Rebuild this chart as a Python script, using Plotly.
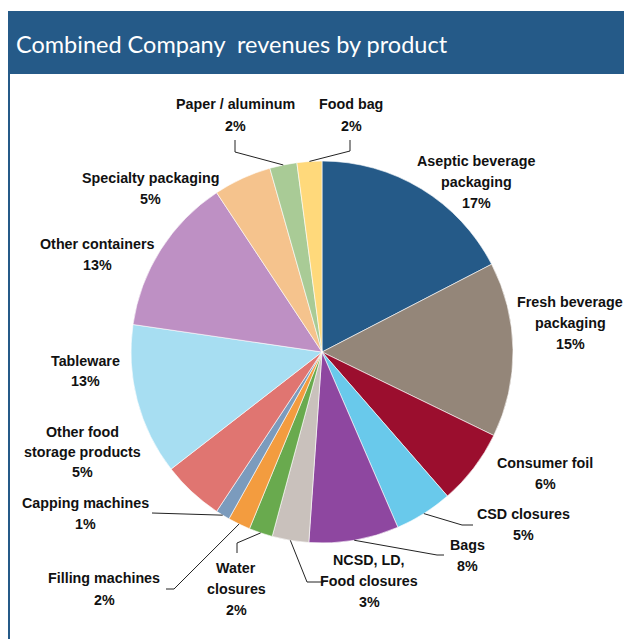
import math
import plotly.graph_objects as go

# ---- data ----
categories = [
    "Aseptic beverage<br>packaging", "Fresh beverage<br>packaging", "Consumer foil",
    "CSD closures", "Bags", "NCSD, LD,<br>Food closures", "Water<br>closures",
    "Filling machines", "Capping machines", "Other food<br>storage products",
    "Tableware", "Other containers", "Specialty packaging", "Paper / aluminum", "Food bag",
]
shares = [17.4, 14.8, 6.4, 4.9, 7.6, 3.1, 2.0, 1.9, 1.2, 5.2, 12.8, 13.4, 4.9, 2.3, 2.1]
colors = ["#255A88", "#948679", "#9B0E2E", "#69C9EB", "#8E47A0", "#C9C1BC", "#69AA4E",
          "#F39C3F", "#7B9BBD", "#E07571", "#A7DEF2", "#BE90C4", "#F5C38D", "#A9CB96", "#FFD97B"]

# ---- layout / style ----
OFF = 8  # page body margin
W, H = 632 - OFF, 639 - OFF
CX, CY, R = 322, 352, 191
# label anchor (center x, first line center y, line gap) in page pixels
label_pos = [(476, 161, 21), (570, 302, 21), (545, 463, 21), (523, 514, 21), (467, 545, 21),
             (369, 560, 21), (236, 568, 21), (104, 578, 22), (85, 503, 21), (82, 432, 20),
             (85, 361, 20), (97, 244, 21), (150, 178, 21), (235, 104, 22), (351, 104, 22)]
# leader line waypoints (page pixels) from label side; the final point is the slice edge
leaders = {
    13: [(235, 140), (235, 152)],
    14: [(350, 140), (350, 151)],
    8: [(152, 513)],
    7: [(166, 589), (174, 589)],
    6: [(237, 553), (237, 543)],
    5: [(324, 582), (307, 582)],
    4: [(444, 555), (437, 555)],
    3: [(473, 525), (462, 525)],
}

def px(x):
    return (x - OFF) / W

def py(y):
    return 1 - (y - OFF) / H

fig = go.Figure()
fig.add_trace(go.Pie(
    labels=categories, values=shares, sort=False, direction="clockwise", rotation=0,
    marker=dict(colors=colors, line=dict(color="white", width=0.6)),
    textinfo="none", hoverinfo="label+percent", showlegend=False,
    domain=dict(x=[px(CX - R), px(CX + R)], y=[py(CY + R), py(CY - R)]),
))

annotations = []
shapes = []
font = dict(family="Liberation Sans, Arial", size=14.3, color="#111111")
total = sum(shares)
cum = 0.0
for i, (cat, v) in enumerate(zip(categories, shares)):
    mid = (cum + v / 2) / total * 2 * math.pi
    cum += v
    lines = cat.split("<br>") + [f"{round(v / total * 100)}%"]
    cx, cy, gap = label_pos[i]
    for j, t in enumerate(lines):
        annotations.append(dict(text=f"<b>{t}</b>", x=px(cx), y=py(cy + j * gap), xref="paper",
                                yref="paper", showarrow=False, xanchor="center",
                                yanchor="middle", font=font))
    if i in leaders:
        pts = leaders[i] + [(CX + R * math.sin(mid), CY - R * math.cos(mid))]
        path = "M " + " L ".join(f"{px(a)},{py(b)}" for a, b in pts)
        shapes.append(dict(type="path", path=path, xref="paper", yref="paper",
                           line=dict(color="#222222", width=1)))

# title bar and frame
shapes.append(dict(type="rect", xref="paper", yref="paper", x0=px(8), x1=1.0,
                   y0=py(74), y1=py(11), fillcolor="#255A88", line=dict(width=0), layer="below"))
shapes.append(dict(type="rect", xref="paper", yref="paper", x0=px(8), x1=px(10),
                   y0=0, y1=py(74), fillcolor="#255A88", line=dict(width=0), layer="below"))
annotations.append(dict(text="Combined Company  revenues by product", x=px(14), y=py(44),
                        xref="paper", yref="paper", showarrow=False, xanchor="left",
                        yanchor="middle", font=dict(family="Lato", size=23.5, color="white")))

fig.update_layout(width=W, height=H, margin=dict(l=0, r=0, t=0, b=0),
                  paper_bgcolor="white", plot_bgcolor="white",
                  annotations=annotations, shapes=shapes)
fig.write_html("out.html")
